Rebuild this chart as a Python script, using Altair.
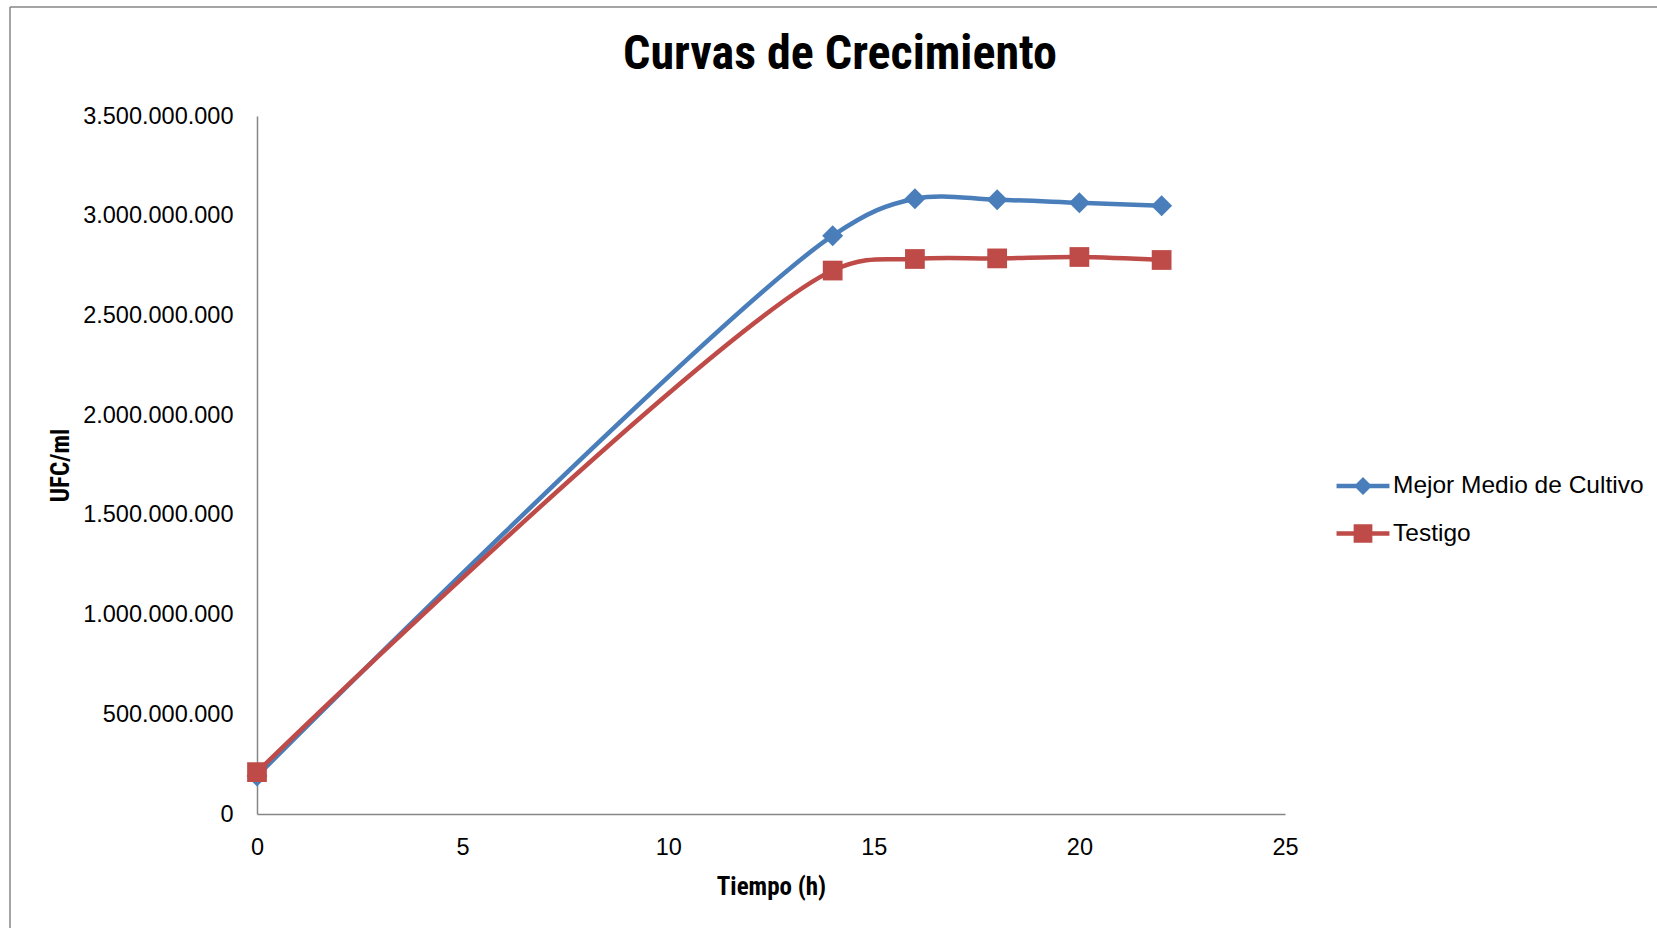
import altair as alt
import pandas as pd

# ---- data ----
tiempo = [0, 14, 16, 18, 20, 22]
mejor_medio = [190_000_000, 2_900_000_000, 3_085_000_000, 3_080_000_000, 3_065_000_000, 3_050_000_000]
testigo = [210_000_000, 2_725_000_000, 2_783_000_000, 2_786_000_000, 2_793_000_000, 2_778_000_000]
series_names = ["Mejor Medio de Cultivo", "Testigo"]
colors = ["#4A7EBB", "#BE4B48"]
y_ticks = [0, 500_000_000, 1_000_000_000, 1_500_000_000, 2_000_000_000,
           2_500_000_000, 3_000_000_000, 3_500_000_000]
x_ticks = [0, 5, 10, 15, 20, 25]

rows = []
for name, vals in zip(series_names, [mejor_medio, testigo]):
    for t, v in zip(tiempo, vals):
        rows.append({"Tiempo": t, "UFC": v, "Serie": name})
df = pd.DataFrame(rows)

W, H = 1028, 698
PAD_L, PAD_T = 257, 116
TOTAL_W, TOTAL_H = 1657, 928

REG = "Liberation Sans, Arial, sans-serif"
NARROW = "Liberation Sans Narrow, Arial Narrow, Roboto Condensed, Liberation Sans, sans-serif"
AXIS_GRAY = "#868686"

x_enc = alt.X("Tiempo:Q",
              scale=alt.Scale(domain=[0, 25], nice=False, zero=False),
              axis=alt.Axis(values=x_ticks, title="Tiempo (h)", ticks=False, grid=False,
                            domainColor=AXIS_GRAY, domainWidth=1.5,
                            labelFont=REG, labelFontSize=23.5, labelColor="black",
                            labelPadding=21, labelFlush=False, labelOverlap=False,
                            titleFont=NARROW, titleFontSize=25, titleFontWeight="bold",
                            titleColor="black", titlePadding=16))
y_enc = alt.Y("UFC:Q",
              scale=alt.Scale(domain=[0, 3_500_000_000], nice=False),
              axis=alt.Axis(values=y_ticks, title="UFC/ml", ticks=False, grid=False,
                            domainColor=AXIS_GRAY, domainWidth=1.5,
                            labelExpr="replace(format(datum.value, ','), regexp(',', 'g'), '.')",
                            labelFont=REG, labelFontSize=23.5, labelColor="black",
                            labelPadding=24, labelFlush=False, labelOverlap=False,
                            titleFont=NARROW, titleFontSize=25, titleFontWeight="bold",
                            titleColor="black", titlePadding=9))

base = alt.Chart(df)
layers = []
shapes = ["diamond", "square"]
sizes = [440, 390]
for name, col, shp, sz in zip(series_names, colors, shapes, sizes):
    sub = base.transform_filter(alt.datum.Serie == name)
    layers.append(sub.mark_line(color=col, strokeWidth=4.5, interpolate="catmull-rom")
                  .encode(x=x_enc, y=y_enc))
    layers.append(sub.mark_point(color=col, filled=True, opacity=1, shape=shp, size=sz)
                  .encode(x=x_enc, y=y_enc))

# legend-only layer (draws no marks) with line+marker symbols
diamond_line = "M-1.47,-0.12L1.47,-0.12L1.47,0.12L-1.47,0.12Z M-0.5,0L0,-0.5L0.5,0L0,0.5Z"
square_line = "M-1.47,-0.12L1.47,-0.12L1.47,0.12L-1.47,0.12Z M-0.52,-0.52L0.52,-0.52L0.52,0.52L-0.52,0.52Z"
legend_layer = base.transform_filter(alt.datum.UFC < 0).mark_point(
    filled=True, opacity=1, size=1296).encode(
    x=x_enc, y=y_enc,
    color=alt.Color("Serie:N", scale=alt.Scale(domain=series_names, range=colors),
                    legend=alt.Legend(orient="none", legendX=1088, legendY=352, title=None,
                                      labelFont=REG, labelFontSize=24.5, labelColor="black",
                                      labelLimit=500, labelOffset=12, rowPadding=17.5, padding=0,
                                      symbolOpacity=1, symbolSize=1296, symbolStrokeWidth=0)),
    shape=alt.Shape("Serie:N", scale=alt.Scale(domain=series_names, range=[diamond_line, square_line])),
)
layers.append(legend_layer)

# chart-area border (top and left edges visible in the reference)
frame = alt.Chart(pd.DataFrame({"k": [0]}))
border_top = frame.mark_rule(color=AXIS_GRAY, strokeWidth=1.5).encode(
    x=alt.value(10 - PAD_L), x2=alt.value(TOTAL_W - PAD_L), y=alt.value(7 - PAD_T))
border_left = frame.mark_rule(color=AXIS_GRAY, strokeWidth=1.5).encode(
    x=alt.value(10 - PAD_L), y=alt.value(7 - PAD_T), y2=alt.value(TOTAL_H - PAD_T))

chart = alt.layer(*layers, border_top, border_left).properties(
    width=W, height=H,
    title=alt.TitleParams("Curvas de Crecimiento", font=NARROW, fontSize=48,
                          fontWeight="bold", color="black", anchor="middle",
                          frame="group", dx=69, offset=-72.5),
    autosize=alt.AutoSizeParams(type="none"),
    padding={"left": PAD_L, "top": PAD_T, "right": TOTAL_W - PAD_L - W,
             "bottom": TOTAL_H - PAD_T - H},
    background="white",
).configure_view(stroke=None)

chart.save("out.html", embed_options={"renderer": "svg", "actions": False})
